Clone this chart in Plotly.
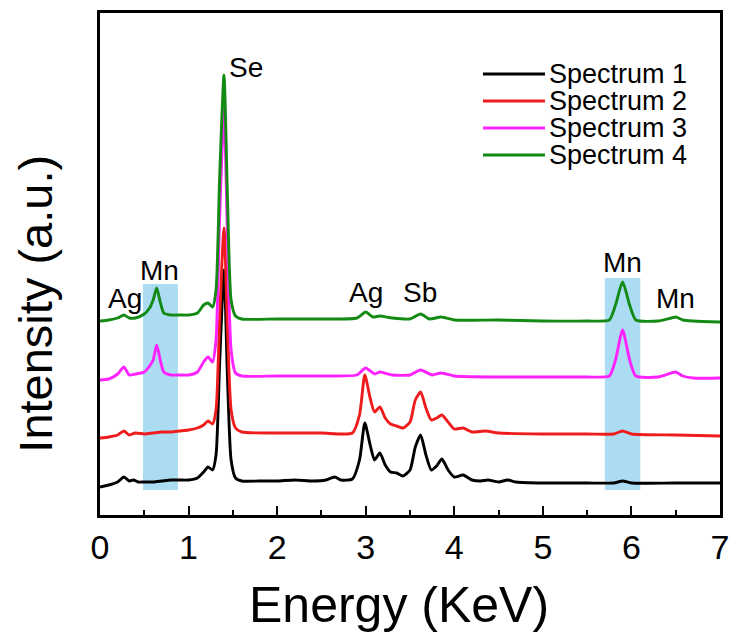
import plotly.graph_objects as go

# ---------------- data (energy in keV, intensity in arbitrary stacked units) ----------------
names = ["Spectrum 1", "Spectrum 2", "Spectrum 3", "Spectrum 4"]
colors = ["#000000", "#ee1c1c", "#ff22ff", "#138a13"]

x1 = [0.0, 0.1, 0.2, 0.27, 0.33, 0.38, 0.43, 0.5, 0.6, 0.7, 0.8, 0.9, 1.0, 1.1, 1.17, 1.22, 1.27,
      1.31, 1.35, 1.40, 1.44, 1.48, 1.53, 1.6, 1.8, 2.0, 2.2, 2.4, 2.55, 2.65, 2.72, 2.85, 2.93, 2.99,
      3.05, 3.1, 3.16, 3.22, 3.28, 3.35, 3.42, 3.5, 3.56, 3.62, 3.68, 3.74, 3.8, 3.86, 3.93, 4.0,
      4.1, 4.2, 4.3, 4.38, 4.5, 4.6, 4.7, 5.0, 5.5, 5.8, 5.9, 6.0, 6.5, 7.0]
y1 = [28, 30, 33, 38, 34, 35, 33, 33, 33, 34, 35, 35, 35, 37, 43, 48, 45,
      60, 150, 245, 135, 55, 37, 34, 34, 34, 35, 34, 35, 38, 35, 36, 55, 92,
      70, 55, 62, 50, 43, 42, 39, 45, 68, 80, 60, 45, 49, 56, 45, 38,
      40, 35, 34, 35, 33, 35, 33, 32, 32, 32, 34, 32, 32, 32]

x2 = [0.0, 0.1, 0.2, 0.27, 0.33, 0.4, 0.5, 0.6, 0.7, 0.8, 0.9, 1.0, 1.1, 1.17, 1.22, 1.27,
      1.31, 1.35, 1.40, 1.44, 1.48, 1.53, 1.6, 2.0, 2.5, 2.85, 2.93, 2.99,
      3.05, 3.1, 3.16, 3.22, 3.28, 3.35, 3.42, 3.5, 3.56, 3.62, 3.68, 3.74, 3.8, 3.86, 3.93, 4.0,
      4.1, 4.2, 4.35, 4.5, 5.0, 5.5, 5.8, 5.9, 6.0, 6.5, 7.0]
y2 = [77, 78, 80, 84, 80, 82, 81, 82, 83, 83, 84, 85, 87, 90, 94, 91,
      105, 195, 287, 185, 105, 87, 83, 82, 82, 82, 100, 140,
      117, 103, 108, 97, 91, 89, 87, 93, 115, 123, 107, 95, 97, 100, 93, 86,
      87, 83, 84, 82, 81, 81, 81, 84, 81, 80, 79]

x3 = [0.0, 0.1, 0.2, 0.27, 0.33, 0.4, 0.5, 0.56, 0.6, 0.64, 0.68, 0.72, 0.8, 0.9, 1.0, 1.1, 1.17,
      1.22, 1.27, 1.31, 1.35, 1.40, 1.44, 1.48, 1.53, 1.6, 2.0, 2.5, 2.9, 3.0, 3.1, 3.16, 3.3,
      3.5, 3.62, 3.75, 3.85, 4.0, 4.5, 5.0, 5.5, 5.75, 5.82, 5.9, 5.98, 6.05, 6.3, 6.45, 6.5,
      6.58, 6.7, 7.0]
y3 = [135, 136, 141, 148, 140, 141, 143, 149, 155, 170, 155, 143, 140, 140, 140, 143, 153,
      158, 153, 175, 295, 405, 275, 165, 142, 139, 139, 139, 140, 147, 141, 143, 140,
      140, 145, 140, 142, 139, 138, 138, 138, 139, 155, 185, 155, 139, 138, 142, 143,
      139, 137, 137]

x4 = [0.0, 0.1, 0.2, 0.27, 0.33, 0.4, 0.5, 0.56, 0.6, 0.64, 0.68, 0.72, 0.8, 0.9, 1.0, 1.1, 1.17,
      1.22, 1.27, 1.31, 1.35, 1.40, 1.44, 1.48, 1.53, 1.6, 2.0, 2.5, 2.9, 3.0, 3.08, 3.16, 3.3,
      3.5, 3.62, 3.72, 3.85, 4.0, 4.5, 5.0, 5.5, 5.75, 5.82, 5.9, 5.98, 6.05, 6.3, 6.45, 6.5,
      6.58, 6.7, 7.0]
y4 = [194, 195, 197, 200, 197, 197, 201, 207, 215, 227, 213, 202, 200, 200, 200, 202, 210,
      212, 208, 225, 335, 440, 315, 215, 199, 196, 196, 196, 197, 203, 198, 199, 197,
      196, 201, 196, 198, 195, 195, 194, 194, 195, 210, 233, 210, 195, 194, 197, 198,
      195, 194, 193]

xs = [x1, x2, x3, x4]
ys = [y1, y2, y3, y4]

# highlighted Mn energy windows (keV) and their vertical extents (intensity units)
band_x0 = [0.485, 5.70]
band_x1 = [0.88, 6.10]
band_y0 = [25, 25]
band_y1 = [231, 237]

# peak labels
label_text = ["Ag", "Mn", "Se", "Ag", "Sb", "Mn", "Mn"]
label_x = [0.28, 0.67, 1.65, 3.00, 3.61, 5.90, 6.50]
label_y = [217, 245, 448, 223, 223, 253, 217]

x_ticks = [0, 1, 2, 3, 4, 5, 6, 7]

# ---------------- figure ----------------
FONT = "Liberation Sans, Arial, sans-serif"
fig = go.Figure()

for xv, yv, nm, col in zip(xs, ys, names, colors):
    fig.add_trace(go.Scatter(x=xv, y=yv, mode="lines", name=nm,
                             line=dict(color=col, width=2.9, shape="spline", smoothing=0.6),
                             showlegend=False))

for a, b, c, d in zip(band_x0, band_x1, band_y0, band_y1):
    fig.add_shape(type="rect", x0=a, x1=b, y0=c, y1=d, xref="x", yref="y",
                  fillcolor="#abdcf2", line=dict(width=0), layer="below")

for t, lx, ly in zip(label_text, label_x, label_y):
    fig.add_annotation(x=lx, y=ly, text=t, showarrow=False, xref="x", yref="y",
                       font=dict(family=FONT, size=28, color="black"))

# manual legend (paper coordinates)
leg_y = [0.8785, 0.8247, 0.7709, 0.7171]
for nm, col, ly in zip(names, colors, leg_y):
    fig.add_shape(type="line", xref="paper", yref="paper", x0=0.6177, x1=0.7177, y0=ly, y1=ly,
                  line=dict(color=col, width=2.8))
    fig.add_annotation(xref="paper", yref="paper", x=0.721, y=ly, text=nm, showarrow=False,
                       xanchor="left", yanchor="middle",
                       font=dict(family=FONT, size=27, color="black"))

# axis titles as annotations for precise placement
fig.add_annotation(xref="paper", yref="paper", x=-0.104, y=0.42, text="Intensity (a.u.)",
                   textangle=-90, showarrow=False, xanchor="center", yanchor="middle",
                   font=dict(family=FONT, size=47, color="black"))
fig.add_annotation(xref="paper", yref="paper", x=0.482, y=-0.179, text="Energy (KeV)",
                   showarrow=False, xanchor="center", yanchor="middle",
                   font=dict(family=FONT, size=50, color="black"))

fig.update_layout(
    width=734, height=639,
    margin=dict(l=100, r=14, t=13, b=124),
    paper_bgcolor="white", plot_bgcolor="white",
    font=dict(family=FONT, color="black"),
    showlegend=False,
)
fig.update_xaxes(
    range=[0, 7], tickvals=x_ticks, ticktext=[str(v) for v in x_ticks],
    ticks="inside", ticklen=9, tickwidth=2, tickcolor="black",
    minor=dict(dtick=0.5, tick0=0, ticks="inside", ticklen=5, tickwidth=2, tickcolor="black"),
    showline=True, linewidth=2.5, linecolor="black", mirror=True,
    showgrid=False, zeroline=False, automargin=False,
    tickfont=dict(family=FONT, size=34),
)
fig.update_yaxes(
    range=[0, 502], showticklabels=False, ticks="",
    showline=True, linewidth=2.5, linecolor="black", mirror=True,
    showgrid=False, zeroline=False, automargin=False,
)

fig.write_html("out.html")
